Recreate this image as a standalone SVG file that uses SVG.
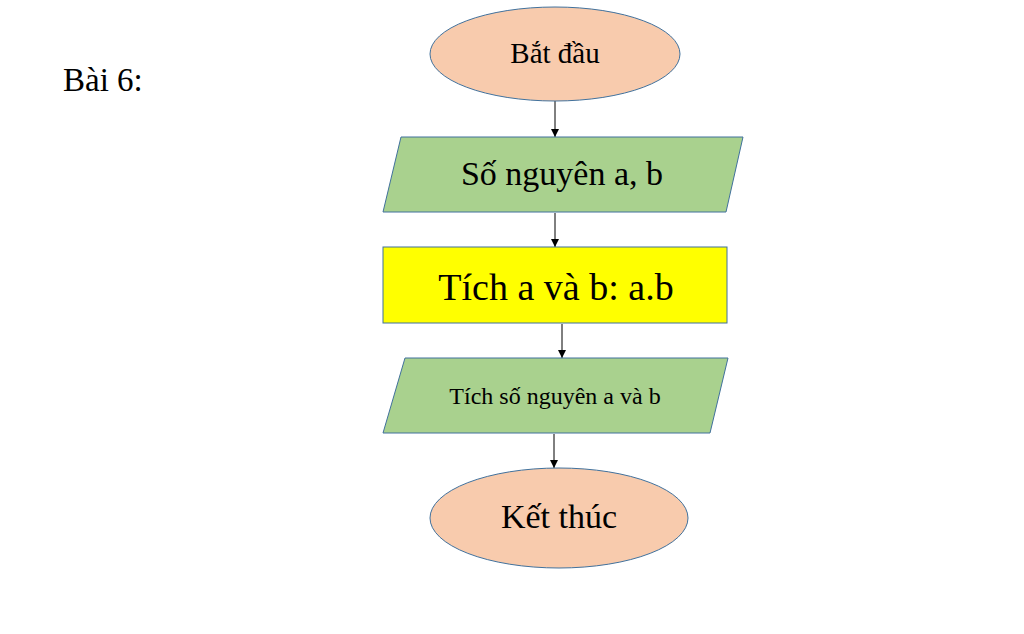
<svg xmlns="http://www.w3.org/2000/svg" width="1024" height="634" viewBox="0 0 1024 634">
<style>
text{font-family:"Liberation Serif","Times New Roman",serif;fill:#000;text-anchor:middle}
.term{fill:#F8CBAD;stroke:#41719C;stroke-width:1}
.io{fill:#A9D18E;stroke:#41719C;stroke-width:1}
.proc{fill:#FFFF00;stroke:#41719C;stroke-width:1}
.conn{stroke:#000;stroke-width:1;fill:none;marker-end:url(#ah)}
</style>
<defs>
<marker id="ah" viewBox="0 0 8 10" refX="8" refY="5" markerWidth="8" markerHeight="10" markerUnits="userSpaceOnUse" orient="auto">
<path d="M0,1 L8,5 L0,9 z" fill="#000"/>
</marker>
</defs>
<rect width="1024" height="634" fill="#fff"/>
<text x="63" y="91" style="text-anchor:start;font-size:33px">Bài 6:</text>
<g id="connectors">
<line class="conn" x1="555" y1="101" x2="555" y2="137"/>
<line class="conn" x1="555" y1="213" x2="555" y2="247"/>
<line class="conn" x1="562" y1="324" x2="562" y2="358"/>
<line class="conn" x1="554" y1="434" x2="554" y2="468"/>
</g>
<g id="start">
<ellipse class="term" cx="555" cy="54" rx="125" ry="47"/>
<text x="555" y="63" style="font-size:29px">Bắt đầu</text>
</g>
<g id="input">
<polygon class="io" points="401,137 743,137 726,212 383,212"/>
<text x="562" y="185" style="font-size:34px">Số nguyên a, b</text>
</g>
<g id="process">
<rect class="proc" x="383" y="247" width="344" height="76"/>
<text x="556" y="300" style="font-size:38px">Tích a và b: a.b</text>
</g>
<g id="output">
<polygon class="io" points="405,358 728,358 710,433 383,433"/>
<text x="555" y="404" style="font-size:24px">Tích số nguyên a và b</text>
</g>
<g id="end">
<ellipse class="term" cx="559" cy="518" rx="129" ry="50"/>
<text x="559" y="528" style="font-size:34px">Kết thúc</text>
</g>
</svg>
